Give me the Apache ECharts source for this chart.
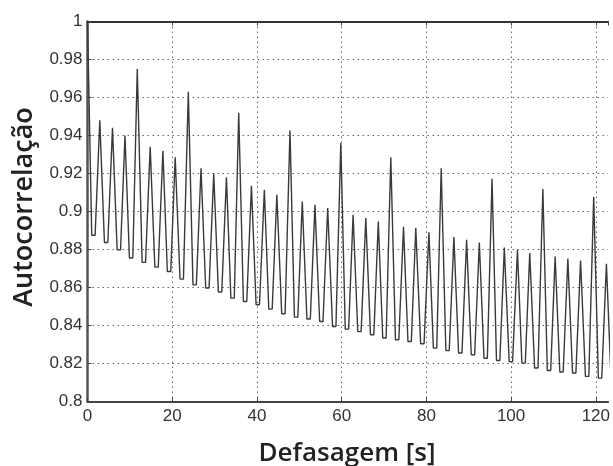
<!DOCTYPE html>
<html>
<head>
<meta charset="utf-8">
<script src="https://cdn.jsdelivr.net/npm/echarts@6/dist/echarts.min.js"></script>
<style>
html,body{margin:0;padding:0;background:#fff;}
#chart{width:613px;height:466px;}
</style>
</head>
<body>
<div id="chart"></div>
<script>
// Peak positions (lag, s) and peak autocorrelation values
const peakLag = [0, 2.9, 5.9, 8.85, 11.75, 14.8, 17.8, 20.7, 23.8, 26.8, 29.8, 32.8, 35.7, 38.7, 41.75, 44.7, 47.8, 50.7, 53.7, 56.7, 59.8, 62.7, 65.7, 68.65, 71.6, 74.6, 77.5, 80.6, 83.5, 86.5, 89.5, 92.5, 95.5, 98.4, 101.5, 104.4, 107.5, 110.4, 113.4, 116.4, 119.5, 122.5, 125.5];
const peakValue = [1.0, 0.948, 0.944, 0.940, 0.975, 0.934, 0.932, 0.9286, 0.963, 0.9228, 0.920, 0.918, 0.952, 0.9135, 0.9114, 0.9088, 0.9426, 0.9053, 0.9035, 0.9018, 0.936, 0.8983, 0.8965, 0.8947, 0.9286, 0.892, 0.8913, 0.889, 0.9228, 0.8865, 0.8851, 0.8837, 0.9172, 0.881, 0.8798, 0.8781, 0.9118, 0.8763, 0.8753, 0.8742, 0.9077, 0.8725, 0.870];
// Trough centres (lag, s) and trough values between consecutive peaks
const troughLag = [1.4, 4.4, 7.4, 10.3, 13.3, 16.3, 19.25, 22.25, 25.3, 28.3, 31.3, 34.25, 37.2, 40.2, 43.2, 46.25, 49.25, 52.2, 55.2, 58.25, 61.25, 64.2, 67.2, 70.1, 73.1, 76.05, 79.05, 82.05, 85.0, 88.0, 91.0, 94.0, 96.95, 99.95, 102.95, 105.95, 108.95, 111.9, 114.9, 117.95, 121.0, 124.0];
const troughValue = [0.8875, 0.8837, 0.8798, 0.8755, 0.8732, 0.8707, 0.8684, 0.8644, 0.8614, 0.8597, 0.8576, 0.8544, 0.8526, 0.8509, 0.8486, 0.8462, 0.8444, 0.8434, 0.8421, 0.8395, 0.8381, 0.8368, 0.8351, 0.8334, 0.8325, 0.8316, 0.8304, 0.8281, 0.8268, 0.8255, 0.8246, 0.8228, 0.8216, 0.821, 0.8202, 0.8176, 0.8163, 0.8155, 0.815, 0.8132, 0.8123, 0.8112];
const xTicks = [0, 20, 40, 60, 80, 100, 120];
const yTicks = [0.8, 0.82, 0.84, 0.86, 0.88, 0.9, 0.92, 0.94, 0.96, 0.98, 1];
const xVisibleMax = 122.9;

const HALF = 0.4; // half-width of the flat trough bottom (shape only)
const points = [[peakLag[0], peakValue[0]]];
for (let i = 0; i < troughLag.length; i++) {
  points.push([troughLag[i] - HALF, troughValue[i]]);
  points.push([troughLag[i] + HALF, troughValue[i]]);
  points.push([peakLag[i + 1], peakValue[i + 1]]);
}

const chart = echarts.init(document.getElementById('chart'), null, {renderer: 'canvas'});
const labelFont = {fontFamily: 'Liberation Sans, Arial, sans-serif', fontSize: 17, color: '#333'};
const xFmt = v => (xTicks.indexOf(Math.round(v * 1000) / 1000) >= 0 ? String(v) : '');
chart.setOption({
  animation: false,
  backgroundColor: '#fff',
  grid: {left: 87.5, top: 21.5, right: 0, height: 380, show: false},
  xAxis: [{
    type: 'value', min: xTicks[0], max: xVisibleMax, interval: 20,
    axisLine: {show: true, lineStyle: {color: '#444', width: 2}},
    axisTick: {show: true, inside: true, length: 4, lineStyle: {color: '#444'}},
    axisLabel: Object.assign({margin: 6, showMaxLabel: false, formatter: xFmt}, labelFont),
    splitLine: {show: true, showMaxLine: false, lineStyle: {color: '#666', type: [1.5, 3.5], width: 1}}
  }, {
    type: 'value', position: 'top', min: xTicks[0], max: xVisibleMax, interval: 20,
    axisLine: {show: true, lineStyle: {color: '#333', width: 2}},
    axisTick: {show: true, inside: true, length: 4, lineStyle: {color: '#444'}},
    axisLabel: {show: false},
    splitLine: {show: false}
  }],
  yAxis: {
    type: 'value', min: yTicks[0], max: yTicks[yTicks.length - 1], interval: 0.02,
    axisLine: {show: true, lineStyle: {color: '#555', width: 2.5}},
    axisTick: {show: true, inside: true, length: 4, lineStyle: {color: '#444'}},
    axisLabel: Object.assign({margin: 5, formatter: v => String(parseFloat(v.toFixed(2)))}, labelFont),
    splitLine: {show: true, lineStyle: {color: '#666', type: [1.5, 3.5], width: 1}}
  },
  graphic: [
    {type: 'text', x: 24, y: 207, rotation: Math.PI / 2,
     style: {text: 'Autocorrelação', fontFamily: 'Open Sans', fontWeight: 600, fontSize: 27, fill: '#222', textAlign: 'center', textVerticalAlign: 'middle'}},
    {type: 'text', x: 347, y: 454,
     style: {text: 'Defasagem [s]', fontFamily: 'Open Sans', fontWeight: 600, fontSize: 26, fill: '#222', textAlign: 'center', textVerticalAlign: 'middle'}}
  ],
  series: [{
    type: 'line', xAxisIndex: 0, data: points, showSymbol: false, clip: true,
    lineStyle: {color: '#3a3a3a', width: 1.4}
  }]
});
</script>
</body>
</html>
